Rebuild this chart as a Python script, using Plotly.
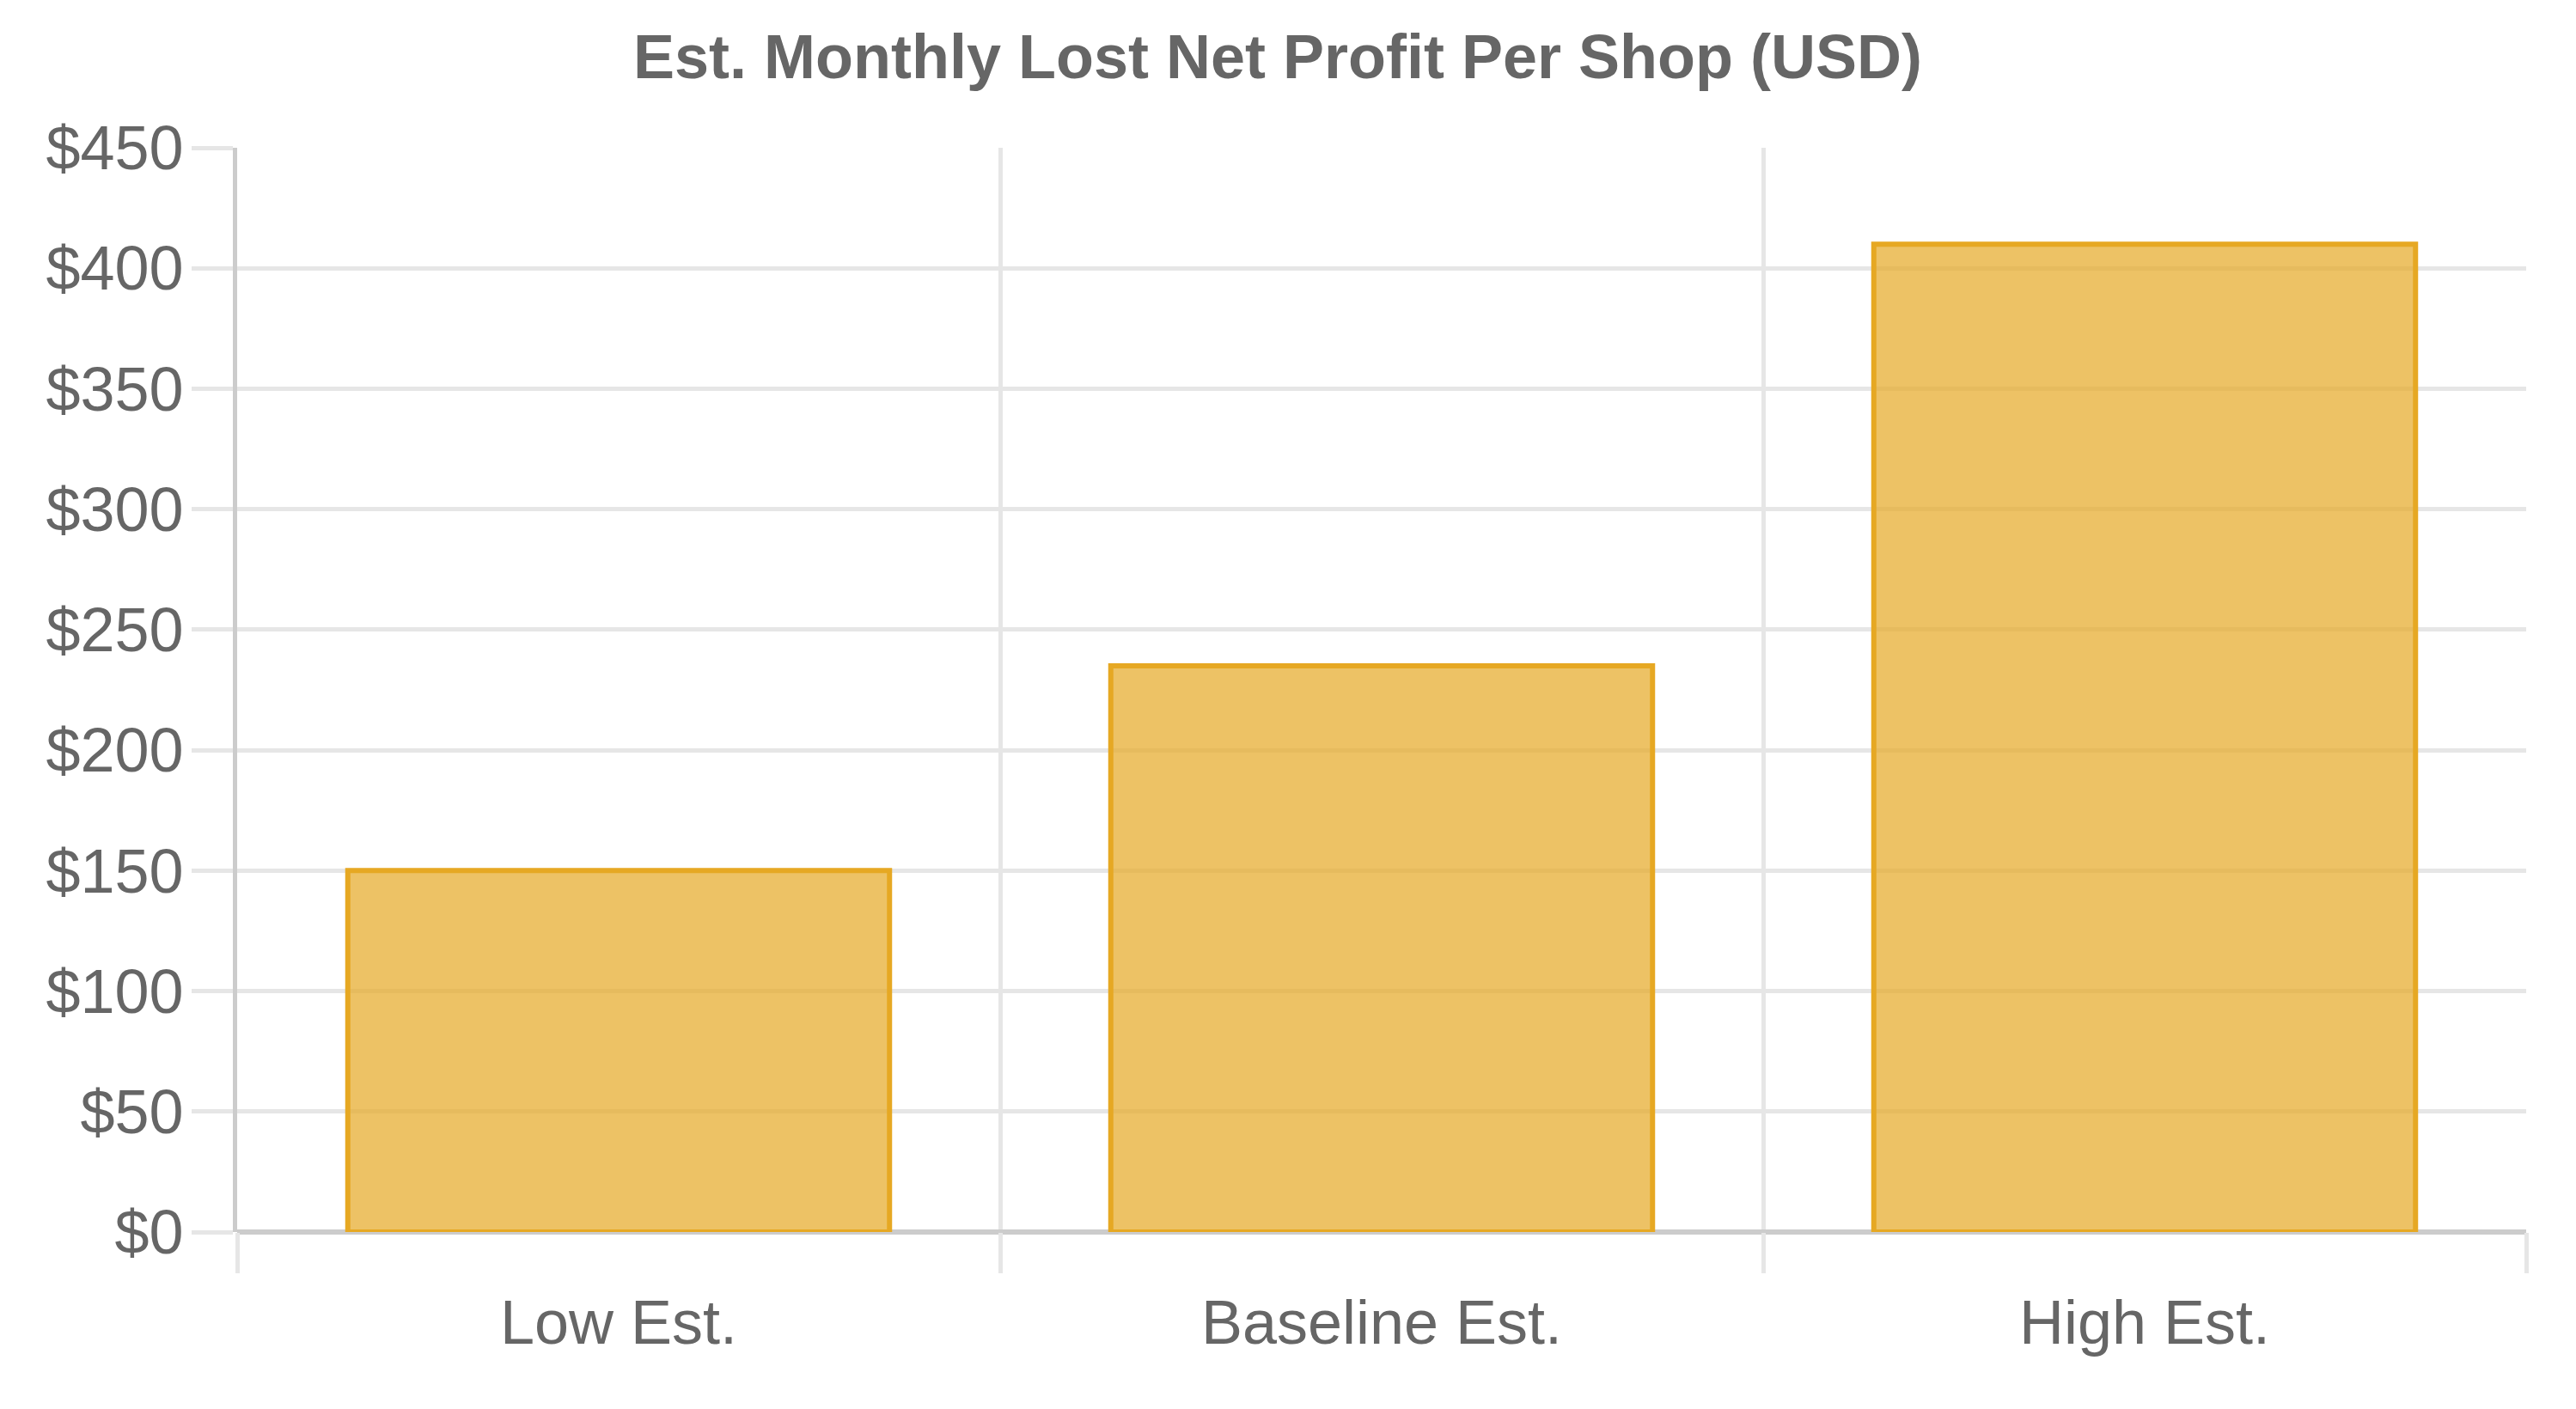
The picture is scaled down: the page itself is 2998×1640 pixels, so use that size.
import plotly.graph_objects as go

categories = ["Low Est.", "Baseline Est.", "High Est."]
lost_profit = [150, 235, 410]

title_text = "Est. Monthly Lost Net Profit Per Shop (USD)"
font_family = "Helvetica Neue, Helvetica, Arial, Liberation Sans, sans-serif"
grid_color = "#e6e6e6"
axis_color = "#cccccc"
text_color = "#666666"

# the page body has an 8px default margin, so the figure is shifted by that much
fig = go.Figure(
    go.Bar(
        x=categories,
        y=lost_profit,
        marker=dict(
            color="rgba(230,168,35,0.7)",
            line=dict(color="rgb(230,168,35)", width=6),
        ),
    )
)

fig.update_layout(
    width=2998,
    height=1640,
    margin=dict(l=268, r=66, t=164, b=214),
    paper_bgcolor="white",
    plot_bgcolor="white",
    bargap=0.29,
    showlegend=False,
    font=dict(family=font_family, color=text_color, size=72),
    title=dict(
        text="<b>" + title_text + "</b>",
        x=(1487 - 8) / 2998,
        xanchor="center",
        y=1 - 58 / 1640,
        yanchor="middle",
        font=dict(size=72, color=text_color, family=font_family),
    ),
)

fig.update_xaxes(
    type="category",
    tickson="boundaries",
    ticks="outside",
    ticklen=47,
    tickwidth=5,
    tickcolor=grid_color,
    showgrid=True,
    gridcolor=grid_color,
    gridwidth=5,
    showline=False,
    ticklabelstandoff=57,
    tickfont=dict(size=72, color=text_color),
)

fig.update_yaxes(
    range=[0, 450],
    dtick=50,
    tickprefix="$",
    ticks="outside",
    ticklen=48,
    tickwidth=5,
    tickcolor=grid_color,
    showgrid=True,
    gridcolor=grid_color,
    gridwidth=5,
    showline=True,
    linecolor=axis_color,
    linewidth=5,
    zeroline=True,
    zerolinecolor=axis_color,
    zerolinewidth=6,
    ticklabelstandoff=-5,
    tickfont=dict(size=72, color=text_color),
)

fig.write_html("out.html")
